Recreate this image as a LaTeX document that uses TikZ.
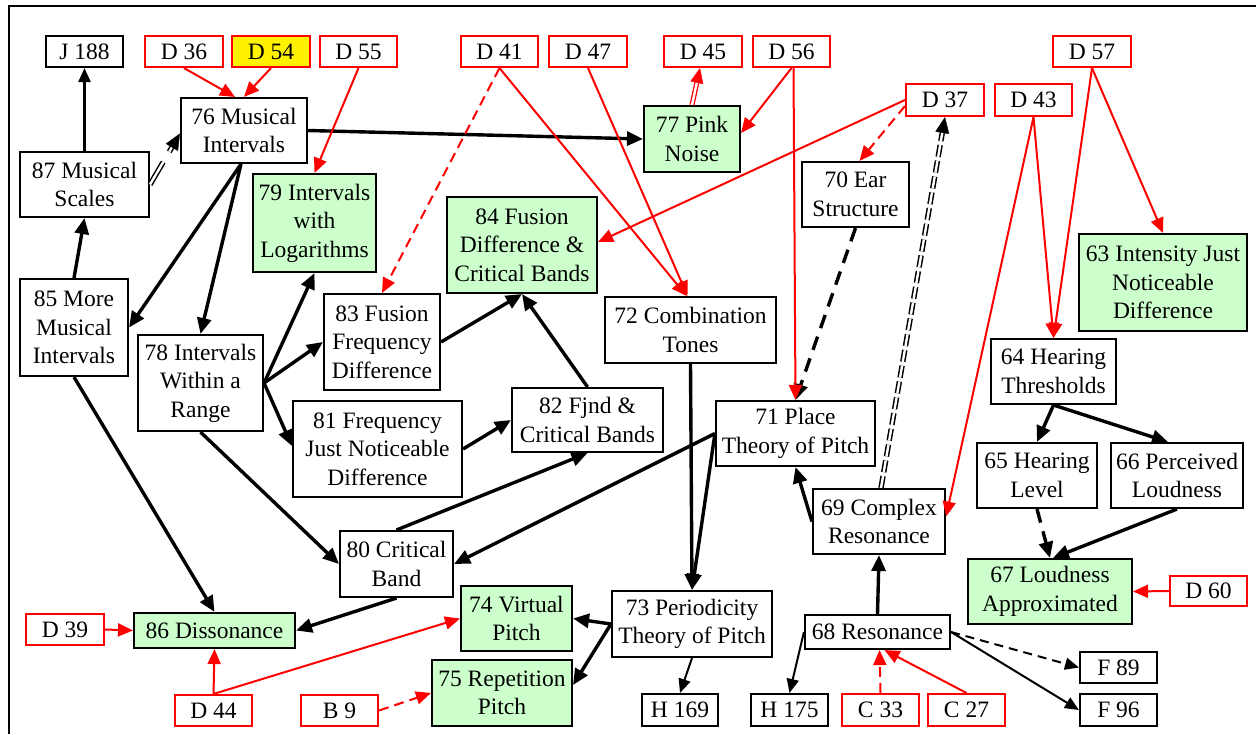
\documentclass[tikz,border=0pt]{standalone}
\usepackage{fontspec}
\setmainfont{Liberation Serif}
\usetikzlibrary{arrows.meta,calc}
\definecolor{gfill}{RGB}{204,255,204}
\definecolor{rd}{RGB}{255,0,0}
\newcommand{\fsz}{\fontsize{23.5}{28.5}\selectfont}
\tikzset{
  base/.style={inner sep=0pt, align=center, font=\fsz, line width=2.1pt},
  bbox/.style={base, draw=black, fill=white},
  rbox/.style={base, draw=rd, fill=white},
  gbox/.style={base, draw=black, fill=gfill},
  ybox/.style={base, draw=rd, fill=yellow},
  sz/.style 2 args={minimum width=#1pt, minimum height=#2pt},
  thk/.style={line width=3.4pt, -{Triangle[length=16pt,width=14pt]}},
  thn/.style={line width=2pt, -{Triangle[length=14pt,width=12pt]}},
  red/.style={draw=rd, line width=2pt, -{Triangle[length=15pt,width=13pt]}},
  rdash/.style={red, dash pattern=on 10pt off 6pt},
  kdash/.style={thk, dash pattern=on 14pt off 9pt},
  ndash/.style={thn, dash pattern=on 9pt off 6pt},
  dbl/.style={line width=1.5pt, double=white, double distance=2.4pt},
  tipk/.style={line width=0.4pt, -{Triangle[length=16pt,width=14pt]}},
  tipr/.style={draw=rd, line width=0.4pt, -{Triangle[length=15pt,width=13pt]}, fill=rd},
}
\begin{document}
\begin{tikzpicture}[x=1pt,y=-1pt]
\useasboundingbox (0,0) rectangle (1256,734);
\draw[line width=2.8pt] (9,734) -- (9,6) -- (1256,6);

% top row
\node[bbox, sz={77}{31}] (nJ) at (84.5,51.5) {J 188};
\node[rbox, sz={78}{31}] (nD36) at (184,51.5) {D 36};
\node[ybox, sz={78}{31}] (nD54) at (271,51.5) {D 54};
\node[rbox, sz={77}{31}] (nD55) at (358.5,51.5) {D 55};
\node[rbox, sz={77}{31}] (nD41) at (499.5,51.5) {D 41};
\node[rbox, sz={78}{31}] (nD47) at (588,51.5) {D 47};
\node[rbox, sz={78}{31}] (nD45) at (703,51.5) {D 45};
\node[rbox, sz={77}{31}] (nD56) at (791.5,51.5) {D 56};
\node[rbox, sz={78}{31}] (nD57) at (1092,51.5) {D 57};
\node[rbox, sz={78}{32}] (nD37) at (945,100) {D 37};
\node[rbox, sz={77}{32}] (nD43) at (1033.5,100) {D 43};

% main nodes
\node[bbox, sz={126}{65}] (n76) at (244,130.5) {76 Musical\\Intervals};
\node[bbox, sz={129}{65}] (n87) at (84.5,184.5) {87 Musical\\Scales};
\node[gbox, sz={123}{98}] (n79) at (314.5,223) {79 Intervals\\with\\Logarithms};
\node[gbox, sz={96}{66}] (n77) at (692,139) {77 Pink\\Noise};
\node[bbox, sz={107}{65}] (n70) at (855.5,194.5) {70 Ear\\Structure};
\node[gbox, sz={150}{96}] (n84) at (522,245) {84 Fusion\\Difference \&\\Critical Bands};
\node[gbox, sz={168}{97}] (n63) at (1163,282.5) {63 Intensity Just\\Noticeable\\Difference};
\node[bbox, sz={108}{97}] (n85) at (74,327.5) {85 More\\Musical\\Intervals};
\node[bbox, sz={125}{96}] (n78) at (200.5,383) {78 Intervals\\Within a\\Range};
\node[bbox, sz={116}{96}] (n83) at (382,342) {83 Fusion\\Frequency\\Difference};
\node[bbox, sz={171}{66}] (n72) at (690.5,330) {72 Combination\\Tones};
\node[bbox, sz={125}{65}] (n64) at (1053.5,371.5) {64 Hearing\\Thresholds};
\node[bbox, sz={169}{96}] (n81) at (377.5,449) {81 Frequency\\Just Noticeable\\Difference};
\node[bbox, sz={151}{64}] (n82) at (587.5,420) {82 Fjnd \&\\Critical Bands};
\node[bbox, sz={159}{65}] (n71) at (795.5,433.5) {71 Place\\Theory of Pitch};
\node[bbox, sz={120}{65}] (n65) at (1037,475.5) {65 Hearing\\Level};
\node[bbox, sz={132}{65}] (n66) at (1177,475.5) {66 Perceived\\Loudness};
\node[bbox, sz={132}{65}] (n69) at (879,521.5) {69 Complex\\Resonance};
\node[bbox, sz={113}{66}] (n80) at (396.5,564) {80 Critical\\Band};
\node[gbox, sz={164}{65}] (n67) at (1050,591.5) {67 Loudness\\Approximated};
\node[rbox, sz={77}{30}] (nD60) at (1208.5,591) {D 60};
\node[rbox, sz={78}{31}] (nD39) at (65,629.5) {D 39};
\node[gbox, sz={161}{35}] (n86) at (214.5,630.5) {86 Dissonance};
\node[gbox, sz={111}{65}] (n74) at (516.5,618.5) {74 Virtual\\Pitch};
\node[bbox, sz={160}{66}] (n73) at (692,624) {73 Periodicity\\Theory of Pitch};
\node[bbox, sz={145}{34}] (n68) at (877.5,632) {68 Resonance};
\node[bbox, sz={77}{31}] (nF89) at (1118.5,667.5) {F 89};
\node[gbox, sz={140}{66}] (n75) at (502,693) {75 Repetition\\Pitch};
\node[rbox, sz={77}{31}] (nD44) at (213.5,710.5) {D 44};
\node[rbox, sz={77}{31}] (nB9) at (339.5,710.5) {B 9};
\node[bbox, sz={76}{32}] (nH169) at (680,710) {H 169};
\node[bbox, sz={77}{32}] (nH175) at (789.5,710) {H 175};
\node[rbox, sz={77}{32}] (nC33) at (880.5,710) {C 33};
\node[rbox, sz={77}{32}] (nC27) at (966.5,710) {C 27};
\node[bbox, sz={77}{32}] (nF96) at (1118.5,710) {F 96};

% black edges
\draw[thn, line width=2.4pt] (n87.north) -- (nJ.south);
\draw[dbl, dash pattern=on 26pt off 12pt, shorten >=15pt] (n87.east) -- ([yshift=-3pt]n76.west);
\draw[tipk] ($([yshift=-3pt]n76.west)!16pt!(n87.east)$) -- ([yshift=-3pt]n76.west);
\draw[thk] (n85.north) -- (n87.south);
\draw[thk] (n76.east) -- (n77.west);
\draw[thk] ([xshift=-3pt]n76.south) -- (n85.east);
\draw[thk] ([xshift=-3pt]n76.south) -- (n78.north);
\draw[thk] (n78.east) -- (n79.south);
\draw[thk] (n78.east) -- (n83.west);
\draw[thk] (n78.east) -- ([yshift=3pt]n81.west);
\draw[thk] (n83.east) -- (n84.south);
\draw[thk] (n82.north) -- (n84.south);
\draw[thk] (n81.east) -- (n82.west);
\draw[thk] (n78.south) -- (n80.west);
\draw[thk] (n85.south) -- (n86.north);
\draw[thk] (n80.north) -- (n82.south);
\draw[thk] (n71.west) -- (n80.east);
\draw[thk] (n80.south) -- (n86.east);
\draw[thk] (n72.south) -- (n73.north);
\draw[thk] (n71.west) -- (n73.north);
\draw[thk] (n73.west) -- (n74.east);
\draw[thk] (n73.west) -- ([yshift=8pt]n75.east);
\draw[thn] (n73.south) -- (nH169.north);
\draw[thn] (n68.west) -- (nH175.north);
\draw[thk] (n68.north) -- (n69.south);
\draw[thk] (n69.west) -- (n71.south);
\draw[kdash] (n70.south) -- (n71.north);
\draw[dbl, dash pattern=on 12pt off 4pt, shorten >=15pt] ([xshift=2pt]n69.north) -- (nD37.south);
\draw[tipk] ($(nD37.south)!16pt!([xshift=2pt]n69.north)$) -- (nD37.south);
\draw[thk] (n64.south) -- (n65.north);
\draw[thk] (n64.south) -- ([xshift=-9pt]n66.north);
\draw[kdash] (n65.south) -- (n67.north);
\draw[thk] (n66.south) -- ([xshift=3pt]n67.north);
\draw[ndash] (n68.east) -- (nF89.west);
\draw[thn] (n68.east) -- (nF96.west);

% red edges
\draw[red] (nD36.south) -- ([xshift=-9pt]n76.north);
\draw[red] (nD54.south) -- (n76.north);
\draw[red] (nD55.south) -- (n79.north);
\draw[rdash] (nD41.south) -- (n83.north);
\draw[red] (nD41.south) -- ([xshift=-4pt]n72.north);
\draw[red] (nD47.south) -- ([xshift=-3pt]n72.north);
\draw[dbl, draw=rd, line width=1.3pt, shorten >=14pt] (n77.north) -- ([xshift=-3pt]nD45.south);
\draw[tipr] ($([xshift=-3pt]nD45.south)!15pt!(n77.north)$) -- ([xshift=-3pt]nD45.south);
\draw[red] (nD56.south) -- ([yshift=6pt]n77.east);
\draw[red] ([xshift=2pt]nD56.south) -- (n71.north);
\draw[red] (nD37.west) -- ([yshift=3pt]n84.east);
\draw[rdash] ([yshift=-6pt]nD37.west) -- ([xshift=4pt]n70.north);
\draw[red] (nD43.south) -- (n64.north);
\draw[red] (nD43.south) -- ([yshift=5pt]n69.east);
\draw[red] (nD57.south) -- (n64.north);
\draw[red] (nD57.south) -- (n63.north);
\draw[red] (nD60.west) -- (n67.east);
\draw[red] (nD39.east) -- (n86.west);
\draw[red] (nD44.north) -- (n86.south);
\draw[red] (nD44.north) -- (n74.west);
\draw[rdash] (nB9.east) -- (n75.west);
\draw[rdash] (nC33.north) -- ([xshift=2pt]n68.south);
\draw[red] (nC27.north) -- ([xshift=7pt]n68.south);
\end{tikzpicture}
\end{document}
